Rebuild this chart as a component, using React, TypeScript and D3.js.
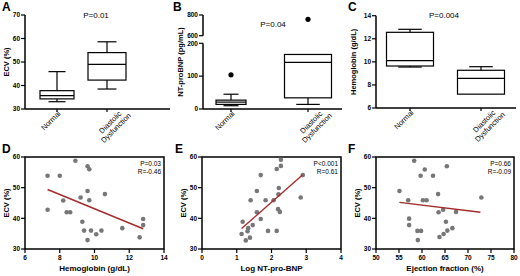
import React from "react";
import * as d3 from "d3";

const FONT = "'Liberation Sans', Arial, Helvetica, sans-serif";

// ---------- Box-plot data (top row) ----------
const groups = ["Normal", "Diastolic Dysfunction"];
const groupLines = [["Normal"], ["Diastolic", "Dysfunction"]];

// A: ECV (%)
const ecvMin = [33.1, 38.5];
const ecvQ1 = [34.3, 42.3];
const ecvMed = [35.7, 49];
const ecvQ3 = [37.8, 54];
const ecvMax = [45.9, 58.6];
const ecvTicks = [30, 40, 50, 60, 70];

// B: NT-proBNP (pg/mL)
const bnpMin = [10, 14];
const bnpQ1 = [14, 34];
const bnpMed = [21, 142];
const bnpQ3 = [27, 166];
const bnpMax = [45, 166];
const bnpOutliers = [[104], [758]];
const bnpLowTicks = [0, 100, 200];
const bnpHighTicks = [600, 800];

// C: Hemoglobin (g/dL)
const hbMin = [9.55, 7.2];
const hbQ1 = [9.64, 7.2];
const hbMed = [10.1, 8.57];
const hbQ3 = [12.56, 9.27];
const hbMax = [12.82, 9.58];
const hbTicks = [6, 8, 10, 12, 14];

// ---------- Scatter data (bottom row) ----------
const hemoglobin = [7.3, 7.3, 8.0, 8.2, 8.4, 8.6, 8.9, 9.2, 9.3, 9.4, 9.6, 9.6, 9.6, 9.7, 9.7, 9.8, 10.1, 10.4, 10.6, 11.6, 12.6, 12.8, 12.8];
const ecvD = [53.9, 42.8, 53.9, 45.8, 42.0, 42.0, 58.8, 46.8, 38.9, 36.0, 32.9, 48.9, 57.0, 56.0, 45.9, 36.0, 34.8, 36.0, 47.9, 36.8, 33.8, 39.8, 37.8];
const fitDx = [7.3, 12.8];
const fitDy = [49.4, 36.6];

const logBnp = [1.14, 1.17, 1.26, 1.31, 1.33, 1.38, 1.46, 1.40, 1.58, 1.58, 1.69, 1.69, 1.83, 1.90, 2.06, 2.15, 2.15, 2.20, 2.21, 2.19, 2.24, 2.27, 2.27, 2.84, 2.90];
const ecvE = [34.9, 38.9, 32.8, 35.8, 36.8, 33.7, 37.8, 45.9, 48.9, 42.0, 54.1, 39.8, 45.9, 35.9, 45.9, 35.9, 56.1, 47.8, 49.9, 43.0, 42.1, 57.1, 59.1, 46.8, 54.1];
const fitEx = [1.14, 2.89];
const fitEy = [36.7, 54.1];

const ejection = [55.1, 57.0, 57.2, 57.2, 58.3, 59.0, 59.1, 59.8, 59.7, 60.6, 60.2, 61.0, 62.4, 63.5, 63.6, 63.8, 64.6, 64.7, 65.2, 65.4, 65.5, 66.6, 67.4, 72.9];
const ecvF = [48.9, 45.9, 39.9, 37.8, 58.8, 35.9, 32.9, 35.9, 53.9, 55.9, 45.9, 45.9, 53.9, 47.9, 42.0, 33.9, 42.8, 34.9, 38.9, 57.0, 36.0, 36.8, 42.1, 46.8];
const fitFx = [55.1, 72.7];
const fitFy = [45.2, 42.0];

const ecvScatterTicks = [30, 40, 50, 60];
const hbXTicks = [6, 8, 10, 12, 14];
const bnpXTicks = [0, 1, 2, 3, 4];
const efXTicks = [50, 55, 60, 65, 70, 75, 80];

type Box = { min: number; q1: number; med: number; q3: number; max: number; w: number; outliers?: number[] };

function BoxGlyph({ cx, b, y }: { cx: number; b: Box; y: (v: number) => number }) {
  const half = b.w / 2;
  const cap = b.w * 0.25;
  return (
    <g stroke="#000" strokeWidth={1.2} fill="none">
      <line x1={cx} x2={cx} y1={y(b.q3)} y2={y(b.max)} />
      <line x1={cx} x2={cx} y1={y(b.q1)} y2={y(b.min)} />
      {b.max > b.q3 && <line x1={cx - cap} x2={cx + cap} y1={y(b.max)} y2={y(b.max)} />}
      {b.min < b.q1 && <line x1={cx - cap} x2={cx + cap} y1={y(b.min)} y2={y(b.min)} />}
      <rect x={cx - half} y={y(b.q3)} width={b.w} height={Math.max(0.5, y(b.q1) - y(b.q3))} fill="#fff" />
      <line x1={cx - half} x2={cx + half} y1={y(b.med)} y2={y(b.med)} />
      {(b.outliers || []).map((o, i) => (
        <circle key={i} cx={cx} cy={y(o)} r={2.6} fill="#000" stroke="none" />
      ))}
    </g>
  );
}

function CatLabels({ xs, baseY }: { xs: number[]; baseY: number }) {
  return (
    <g fontFamily={FONT} fontSize={7.4} fill="#000">
      {groupLines.map((lines, i) => {
        if (lines.length === 1) {
          return (
            <text key={i} transform={`translate(${xs[i] + 4},${baseY}) rotate(-45)`} textAnchor="end">
              {lines[0]}
            </text>
          );
        }
        return (
          <g key={i} transform={`translate(${xs[i] + 5},${baseY + 10}) rotate(-45)`}>
            {lines.map((l, j) => (
              <text key={j} y={j * 8} textAnchor="middle">
                {l}
              </text>
            ))}
          </g>
        );
      })}
    </g>
  );
}

function BoxPanel(props: {
  letter: string; lx: number; ax0: number; ax1: number; axisTop: number; axisBottom: number;
  cats: number[]; boxes: Box[]; y: (v: number) => number; ticks: number[];
  ylabel: string; ylabelX: number; pText: string; px: number; py: number;
  segments?: [number, number][];
}) {
  const { letter, lx, ax0, ax1, axisBottom, cats, boxes, y, ticks, ylabel, ylabelX, pText, px, py } = props;
  const segs = props.segments || [[props.axisTop, axisBottom]];
  return (
    <g>
      <text x={lx} y={11} fontFamily={FONT} fontWeight="bold" fontSize={12}>{letter}</text>
      {segs.map((s, i) => (
        <line key={i} x1={ax0} x2={ax0} y1={s[0]} y2={s[1]} stroke="#000" strokeWidth={1.5} />
      ))}
      <line x1={ax0} x2={ax1} y1={axisBottom} y2={axisBottom} stroke="#000" strokeWidth={1.5} />
      {ticks.map((t) => (
        <g key={t}>
          <line x1={ax0 - 4} x2={ax0} y1={y(t)} y2={y(t)} stroke="#000" strokeWidth={1.2} />
          <text x={ax0 - 5} y={y(t)} dy="0.35em" textAnchor="end" fontFamily={FONT} fontWeight="bold" fontSize={6.5}>{t}</text>
        </g>
      ))}
      {cats.map((cx, i) => (
        <line key={i} x1={cx} x2={cx} y1={axisBottom} y2={axisBottom + 3} stroke="#000" strokeWidth={1.2} />
      ))}
      {boxes.map((b, i) => (
        <BoxGlyph key={i} cx={cats[i]} b={b} y={y} />
      ))}
      <text transform={`translate(${ylabelX},${(props.axisTop + axisBottom) / 2}) rotate(-90)`} textAnchor="middle" fontFamily={FONT} fontWeight="bold" fontSize={7.5}>{ylabel}</text>
      <text x={px} y={py} textAnchor="middle" fontFamily={FONT} fontSize={8}>{pText}</text>
      <CatLabels xs={cats} baseY={axisBottom + 5} />
    </g>
  );
}

function ScatterPanel(props: {
  letter: string; lx: number; x0: number; x1: number; xDomain: [number, number]; xTicks: number[];
  xs: number[]; ys: number[]; fx: number[]; fy: number[]; xlabel: string; stats: string[];
}) {
  const top = 157, bottom = 249;
  const x = d3.scaleLinear().domain(props.xDomain).range([props.x0, props.x1]);
  const y = d3.scaleLinear().domain([30, 60]).range([bottom, top]);
  return (
    <g>
      <text x={props.lx} y={153} fontFamily={FONT} fontWeight="bold" fontSize={12}>{props.letter}</text>
      <rect x={props.x0} y={top} width={props.x1 - props.x0} height={bottom - top} fill="none" stroke="#000" strokeWidth={1.5} />
      {ecvScatterTicks.map((t) => (
        <g key={t}>
          <line x1={props.x0 - 4} x2={props.x0} y1={y(t)} y2={y(t)} stroke="#000" strokeWidth={1.2} />
          <text x={props.x0 - 5} y={y(t)} dy="0.35em" textAnchor="end" fontFamily={FONT} fontWeight="bold" fontSize={6.5}>{t}</text>
        </g>
      ))}
      {props.xTicks.map((t) => (
        <g key={t}>
          <line x1={x(t)} x2={x(t)} y1={bottom} y2={bottom + 4} stroke="#000" strokeWidth={1.2} />
          <text x={x(t)} y={bottom + 11} textAnchor="middle" fontFamily={FONT} fontWeight="bold" fontSize={6.5}>{t}</text>
        </g>
      ))}
      {props.xs.map((v, i) => (
        <circle key={i} cx={x(v)} cy={y(props.ys[i])} r={2.3} fill="#777" />
      ))}
      <line x1={x(props.fx[0])} y1={y(props.fy[0])} x2={x(props.fx[1])} y2={y(props.fy[1])} stroke="#a52a2a" strokeWidth={1.4} />
      {props.stats.map((s, i) => (
        <text key={i} x={props.x1 - 3} y={166 + i * 7.5} textAnchor="end" fontFamily={FONT} fontSize={6.5}>{s}</text>
      ))}
      <text x={(props.x0 + props.x1) / 2} y={271} textAnchor="middle" fontFamily={FONT} fontWeight="bold" fontSize={8}>{props.xlabel}</text>
      <text transform={`translate(${props.x0 - 16.5},${(top + bottom) / 2}) rotate(-90)`} textAnchor="middle" fontFamily={FONT} fontWeight="bold" fontSize={7.5}>ECV (%)</text>
    </g>
  );
}

export default function App() {
  // Panel A scales
  const yA = d3.scaleLinear().domain([30, 70]).range([109, 15]);
  const xA = d3.scalePoint<string>().domain(groups).range([57, 107]);
  const boxesA: Box[] = groups.map((_, i) => ({ min: ecvMin[i], q1: ecvQ1[i], med: ecvMed[i], q3: ecvQ3[i], max: ecvMax[i], w: [34, 38][i] }));

  // Panel B broken scale
  const yBLow = d3.scaleLinear().domain([0, 200]).range([109, 43.3]);
  const yBHigh = d3.scaleLinear().domain([600, 800]).range([35.7, 15]);
  const yB = (v: number) => (v <= 300 ? yBLow(v) : yBHigh(v));
  const xB = d3.scalePoint<string>().domain(groups).range([231, 308]);
  const boxesB: Box[] = groups.map((_, i) => ({ min: bnpMin[i], q1: bnpQ1[i], med: bnpMed[i], q3: bnpQ3[i], max: bnpMax[i], w: [30, 47][i], outliers: bnpOutliers[i] }));

  // Panel C
  const yC = d3.scaleLinear().domain([6, 14]).range([108, 15.7]);
  const xC = d3.scalePoint<string>().domain(groups).range([410, 481]);
  const boxesC: Box[] = groups.map((_, i) => ({ min: hbMin[i], q1: hbQ1[i], med: hbMed[i], q3: hbQ3[i], max: hbMax[i], w: 47 }));

  return (
    <svg width={520} height={276} style={{ position: "absolute", left: 0, top: 0, background: "#fff" }}>
      <rect width={520} height={276} fill="#fff" />
      <BoxPanel letter="A" lx={2} ax0={25} ax1={170} axisTop={15} axisBottom={109}
        cats={groups.map((g) => xA(g) as number)} boxes={boxesA} y={yA} ticks={ecvTicks}
        ylabel="ECV (%)" ylabelX={9} pText="P=0.01" px={96} py={18} />
      <BoxPanel letter="B" lx={173} ax0={203} ax1={342} axisTop={15} axisBottom={109}
        cats={groups.map((g) => xB(g) as number)} boxes={boxesB} y={yB} ticks={[...bnpLowTicks, ...bnpHighTicks]}
        ylabel="NT-proBNP (pg/mL)" ylabelX={183} pText="P=0.04" px={273} py={27}
        segments={[[yBHigh(800), yBHigh(600)], [yBLow(200), yBLow(0)]]} />
      <BoxPanel letter="C" lx={348} ax0={376} ax1={516} axisTop={15.7} axisBottom={108}
        cats={groups.map((g) => xC(g) as number)} boxes={boxesC} y={yC} ticks={hbTicks}
        ylabel="Hemoglobin (g/dL)" ylabelX={356} pText="P=0.004" px={444} py={18} />

      <ScatterPanel letter="D" lx={2} x0={25} x1={164} xDomain={[6, 14]} xTicks={hbXTicks}
        xs={hemoglobin} ys={ecvD} fx={fitDx} fy={fitDy} xlabel="Hemoglobin (g/dL)" stats={["P=0.03", "R=-0.46"]} />
      <ScatterPanel letter="E" lx={175} x0={202} x1={341} xDomain={[0, 4]} xTicks={bnpXTicks}
        xs={logBnp} ys={ecvE} fx={fitEx} fy={fitEy} xlabel="Log NT-pro-BNP" stats={["P<0.001", "R=0.61"]} />
      <ScatterPanel letter="F" lx={348} x0={376} x1={514} xDomain={[50, 80]} xTicks={efXTicks}
        xs={ejection} ys={ecvF} fx={fitFx} fy={fitFy} xlabel="Ejection fraction (%)" stats={["P=0.66", "R=-0.09"]} />
    </svg>
  );
}
